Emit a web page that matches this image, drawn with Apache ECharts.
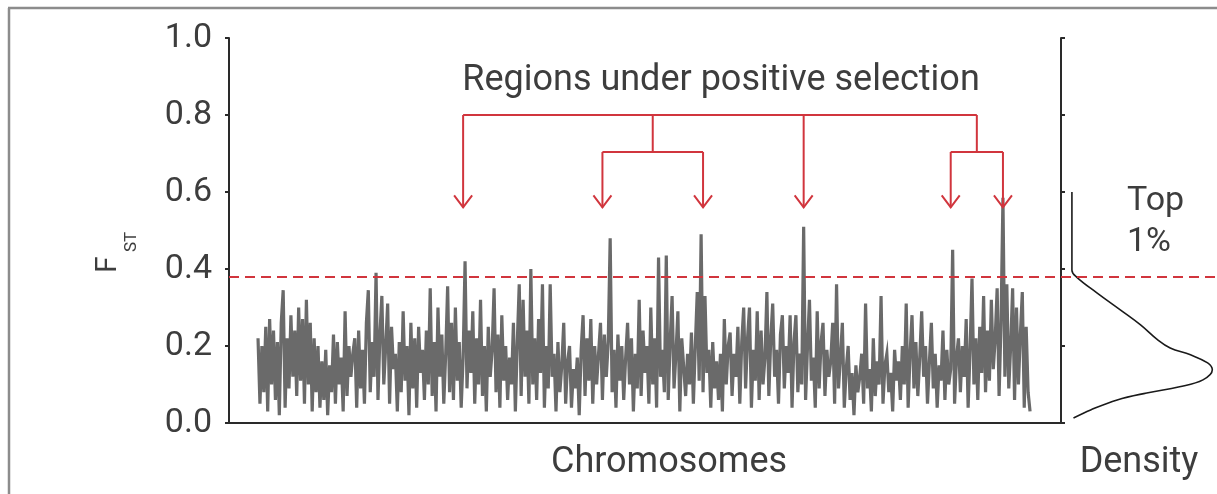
<!DOCTYPE html>
<html>
<head>
<meta charset="utf-8">
<title>FST scan</title>
<script src="https://cdn.jsdelivr.net/npm/echarts@6/dist/echarts.min.js"></script>
<style>
  html, body { margin: 0; padding: 0; background: #ffffff; }
  #chart { width: 1217px; height: 494px; }
</style>
</head>
<body>
<div id="chart"></div>
<script>
// FST per genomic window, in chromosome order
const fstValues = [
  0.22,0.05,0.2,0.08,0.25,0.03,0.27,0.1,0.24,0.06,0.21,0.02,0.26,0.345,0.04,0.22,0.09,0.28,0.12,0.24,
  0.07,0.3,0.11,0.27,0.05,0.32,0.1,0.26,0.03,0.22,0.08,0.2,0.04,0.16,0.06,0.19,0.02,0.15,0.08,0.23,
  0.05,0.21,0.1,0.17,0.03,0.29,0.07,0.2,0.12,0.18,0.22,0.04,0.24,0.09,0.19,0.05,0.26,0.345,0.08,0.21,
  0.12,0.39,0.06,0.23,0.33,0.1,0.2,0.31,0.05,0.25,0.14,0.18,0.03,0.21,0.08,0.29,0.11,0.2,0.02,0.26,
  0.09,0.22,0.04,0.25,0.13,0.19,0.06,0.24,0.1,0.35,0.07,0.21,0.03,0.3,0.12,0.23,0.05,0.18,0.355,0.08,
  0.26,0.06,0.3,0.11,0.21,0.04,0.17,0.42,0.09,0.24,0.13,0.29,0.05,0.22,0.1,0.32,0.07,0.2,0.03,0.25,
  0.12,0.19,0.35,0.08,0.23,0.04,0.28,0.11,0.2,0.06,0.17,0.1,0.26,0.03,0.21,0.36,0.07,0.32,0.12,0.24,
  0.05,0.40,0.1,0.22,0.06,0.27,0.13,0.36,0.04,0.2,0.09,0.36,0.12,0.18,0.03,0.21,0.08,0.15,0.26,0.05,
  0.16,0.2,0.04,0.14,0.09,0.17,0.02,0.19,0.28,0.07,0.22,0.11,0.27,0.05,0.2,0.1,0.18,0.26,0.06,0.23,
  0.12,0.21,0.48,0.08,0.19,0.04,0.23,0.11,0.2,0.06,0.17,0.26,0.1,0.22,0.03,0.18,0.09,0.32,0.07,0.24,
  0.13,0.2,0.05,0.3,0.1,0.22,0.04,0.43,0.12,0.19,0.08,0.435,0.06,0.21,0.33,0.09,0.18,0.29,0.03,0.22,
  0.22,0.07,0.18,0.1,0.235,0.05,0.2,0.34,0.11,0.49,0.08,0.33,0.13,0.19,0.04,0.21,0.09,0.16,0.06,0.18,
  0.03,0.27,0.1,0.2,0.235,0.07,0.18,0.12,0.25,0.05,0.21,0.3,0.09,0.22,0.3,0.04,0.19,0.11,0.29,0.06,
  0.24,0.1,0.17,0.34,0.07,0.22,0.31,0.12,0.19,0.05,0.23,0.28,0.09,0.2,0.13,0.28,0.04,0.21,0.28,0.08,
  0.18,0.1,0.51,0.06,0.2,0.32,0.11,0.17,0.04,0.29,0.09,0.21,0.26,0.07,0.19,0.12,0.16,0.26,0.05,0.36,
  0.09,0.17,0.26,0.04,0.14,0.2,0.06,0.13,0.02,0.15,0.08,0.12,0.18,0.05,0.31,0.09,0.14,0.03,0.22,0.07,
  0.16,0.1,0.33,0.05,0.15,0.18,0.08,0.13,0.03,0.19,0.11,0.16,0.06,0.2,0.1,0.31,0.04,0.18,0.28,0.09,
  0.21,0.07,0.17,0.29,0.12,0.2,0.05,0.16,0.26,0.09,0.18,0.04,0.15,0.11,0.24,0.06,0.19,0.1,0.14,0.45,
  0.05,0.17,0.22,0.08,0.2,0.12,0.27,0.04,0.19,0.375,0.1,0.22,0.06,0.25,0.13,0.33,0.08,0.24,0.11,0.32,
  0.14,0.22,0.35,0.07,0.26,0.585,0.12,0.36,0.09,0.2,0.35,0.06,0.3,0.1,0.23,0.34,0.04,0.25,0.08,0.03
];

// Density of FST values: [density, FST]
const densityX = [0.07, 0.07, 0.10, 0.23, 0.38, 0.51, 0.62, 0.70, 0.83, 0.94, 0.97, 0.91, 0.76, 0.55, 0.36, 0.19, 0.08];
const densityY = [0.60, 0.397, 0.379, 0.338, 0.294, 0.255, 0.216, 0.195, 0.177, 0.156, 0.138, 0.112, 0.094, 0.078, 0.06, 0.034, 0.013];

// Top-1% cutoff
const topCutoff = 0.38;

// Windows marked as under positive selection (left to right)
const selectedWindows = [106, 178, 230, 282, 358, 385];
const bracketTop = 0.8, bracketMid = 0.704, arrowTip = 0.56;

const yTicks = [0, 0.2, 0.4, 0.6, 0.8, 1.0];

const FONT = "Roboto, 'Liberation Sans', sans-serif";
const TEXT = '#3d3d3d';
const RED = '#d1353d';
const AXIS = '#2a2a2a';

const chart = echarts.init(document.getElementById('chart'), null, { renderer: 'canvas' });

const fstData = fstValues.map((v, i) => [i, v]);
const densityData = densityX.map((d, i) => [d, densityY[i]]);

function bracketItem(params, api) {
  const p = (i, v) => api.coord([i, v]);
  const [a0, a1, a2, a3, a4, a5] = selectedWindows;
  const m12 = (a1 + a2) / 2, m45 = (a4 + a5) / 2;
  const segs = [
    [p(a0, bracketTop), p(m45, bracketTop)],
    [p(a0, bracketTop), p(a0, arrowTip)],
    [p(m12, bracketTop), p(m12, bracketMid)],
    [p(a1, bracketMid), p(a2, bracketMid)],
    [p(a1, bracketMid), p(a1, arrowTip)],
    [p(a2, bracketMid), p(a2, arrowTip)],
    [p(a3, bracketTop), p(a3, arrowTip)],
    [p(m45, bracketTop), p(m45, bracketMid)],
    [p(a4, bracketMid), p(a5, bracketMid)],
    [p(a4, bracketMid), p(a4, arrowTip)],
    [p(a5, bracketMid), p(a5, arrowTip)]
  ];
  selectedWindows.forEach(a => {
    const t = p(a, arrowTip);
    segs.push([[t[0] - 9, t[1] - 12], t, [t[0] + 9, t[1] - 12]]);
  });
  return {
    type: 'group',
    children: segs.map(pts => ({
      type: 'polyline',
      shape: { points: pts },
      style: { stroke: RED, lineWidth: 2, fill: null, lineJoin: 'miter' }
    }))
  };
}

const option = {
  animation: false,
  backgroundColor: '#ffffff',
  textStyle: { fontFamily: FONT },
  grid: [
    { left: 229, top: 38, width: 832, height: 385 },
    { left: 1061, top: 38, width: 156, height: 385 }
  ],
  xAxis: [
    {
      type: 'value', gridIndex: 0, min: -15, max: 415,
      axisLine: { show: true, onZero: false, lineStyle: { color: AXIS, width: 2 } },
      axisTick: { show: false }, axisLabel: { show: false }, splitLine: { show: false },
      name: 'Chromosomes', nameLocation: 'middle', nameGap: 22,
      nameTextStyle: { fontFamily: FONT, fontSize: 36, color: TEXT, padding: [0, 0, 0, 48] }
    },
    {
      type: 'value', gridIndex: 1, min: 0, max: 1,
      axisLine: { show: false, onZero: false }, axisTick: { show: false }, axisLabel: { show: false }, splitLine: { show: false },
      name: 'Density', nameLocation: 'middle', nameGap: 22,
      nameTextStyle: { fontFamily: FONT, fontSize: 36, color: TEXT }
    }
  ],
  yAxis: [
    {
      type: 'value', gridIndex: 0, min: 0, max: 1, interval: 0.2,
      axisLine: { show: true, onZero: false, lineStyle: { color: AXIS, width: 2 } },
      axisTick: { show: true, length: 4, lineStyle: { color: AXIS, width: 2 } },
      axisLabel: {
        margin: 17, fontFamily: FONT, fontSize: 34, color: TEXT,
        formatter: v => (yTicks.indexOf(Math.round(v * 10) / 10) >= 0 ? v.toFixed(1) : '')
      },
      splitLine: { show: false }
    },
    {
      type: 'value', gridIndex: 1, min: 0, max: 1, interval: 0.2,
      axisLine: { show: true, onZero: false, lineStyle: { color: AXIS, width: 2 } },
      axisTick: { show: true, inside: true, length: 4, lineStyle: { color: AXIS, width: 2 } },
      axisLabel: { show: false }, splitLine: { show: false }
    }
  ],
  graphic: [
    { type: 'line', shape: { x1: 8, y1: 8, x2: 1217, y2: 8 }, style: { stroke: '#8c8c8c', lineWidth: 2.5 } },
    { type: 'line', shape: { x1: 9, y1: 8, x2: 9, y2: 494 }, style: { stroke: '#8c8c8c', lineWidth: 2.5 } },
    {
      type: 'text', x: 721, y: 81,
      style: { text: 'Regions under positive selection', fontFamily: FONT, fontSize: 36, fill: TEXT, align: 'center', verticalAlign: 'middle' }
    },
    {
      type: 'text', x: 1127, y: 222,
      style: { text: 'Top\n1%', fontFamily: FONT, fontSize: 34, lineHeight: 41, fill: TEXT, align: 'left', verticalAlign: 'middle' }
    },
    {
      // F with subscript ST, set vertically (reads upward)
      type: 'group', x: 118, y: 273, rotation: Math.PI / 2,
      children: [
        { type: 'text', x: 0, y: -10, style: { text: 'F', fontFamily: FONT, fontSize: 30, fill: TEXT, align: 'left', verticalAlign: 'middle' } },
        { type: 'text', x: 21, y: 14, style: { text: 'ST', fontFamily: FONT, fontSize: 17, fill: TEXT, align: 'left', verticalAlign: 'middle' } }
      ]
    }
  ],
  series: [
    {
      type: 'line', xAxisIndex: 0, yAxisIndex: 0, data: fstData,
      showSymbol: false, symbol: 'none',
      lineStyle: { color: '#6a6a6a', width: 3.2, join: 'miter' },
      markLine: {
        silent: true, symbol: 'none', label: { show: false },
        lineStyle: { color: RED, type: [10, 6], width: 2 },
        data: [{ yAxis: topCutoff }]
      },
      z: 2
    },
    {
      type: 'line', xAxisIndex: 1, yAxisIndex: 1, data: densityData,
      showSymbol: false, symbol: 'none', smooth: 0.4,
      lineStyle: { color: '#1a1a1a', width: 1.6 },
      markLine: {
        silent: true, symbol: 'none', label: { show: false },
        lineStyle: { color: RED, type: [10, 6], width: 2 },
        data: [{ yAxis: topCutoff }]
      }
    },
    {
      type: 'custom', xAxisIndex: 0, yAxisIndex: 0, data: [[0, 0]],
      renderItem: bracketItem, clip: false, silent: true, z: 5
    }
  ]
};

chart.setOption(option);
</script>
</body>
</html>
